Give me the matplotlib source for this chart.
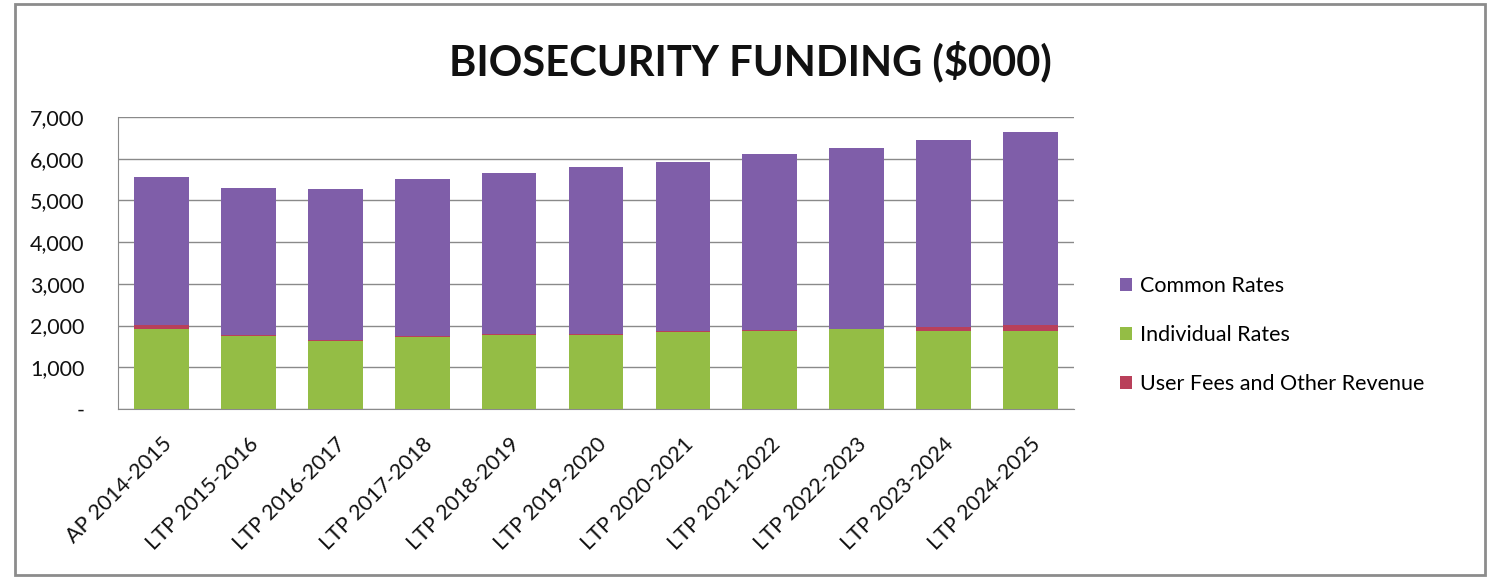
import numpy as np
import matplotlib.pyplot as plt
from matplotlib.patches import Rectangle
from matplotlib.ticker import FuncFormatter

plt.rcParams['font.family'] = ['Lato', 'DejaVu Sans']

years = ["AP 2014-2015", "LTP 2015-2016", "LTP 2016-2017", "LTP 2017-2018",
         "LTP 2018-2019", "LTP 2019-2020", "LTP 2020-2021", "LTP 2021-2022",
         "LTP 2022-2023", "LTP 2023-2024", "LTP 2024-2025"]
individual_rates = [1918, 1750, 1638, 1734, 1775, 1775, 1854, 1878, 1911, 1870, 1870]
user_fees = [95, 15, 15, 15, 15, 15, 15, 15, 15, 105, 135]
common_rates = [3541, 3542, 3630, 3759, 3862, 4020, 4061, 4215, 4340, 4476, 4631]

purple = "#7f5ea9"
green = "#94bd45"
red = "#b9405a"

fig = plt.figure(figsize=(14.92, 5.79), dpi=100)
ax = fig.add_axes([0.0791, 0.2936, 0.6407, 0.5043])

x = np.arange(len(years))
w = 0.63
ind = np.array(individual_rates)
fee = np.array(user_fees)
com = np.array(common_rates)
b_ind = ax.bar(x, ind, w, color=green, zorder=3)
b_fee = ax.bar(x, fee, w, bottom=ind, color=red, zorder=3)
b_com = ax.bar(x, com, w, bottom=ind + fee, color=purple, zorder=3)

ax.set_xlim(-0.5, len(years) - 0.5)
ax.set_ylim(0, 7000)
ax.set_yticks(range(0, 7001, 1000))
ax.yaxis.set_major_formatter(FuncFormatter(lambda v, p: "-" if v == 0 else f"{int(v):,}"))
ax.grid(axis='y', color='#8a8a8a', linewidth=1, zorder=0)
ax.set_axisbelow(True)

for s in ['top', 'right']:
    ax.spines[s].set_visible(False)
for s in ['left', 'bottom']:
    ax.spines[s].set_color('#8a8a8a')

ax.tick_params(axis='y', length=0, pad=24, labelsize=15.5, labelcolor='#111111')
ax.tick_params(axis='x', length=0, pad=18, labelsize=15.5, labelcolor='#111111')
ax.set_xticks(x)
ax.set_xticklabels(years, rotation=45, ha='right', rotation_mode='anchor')

fig.text(0.503, 0.893, "BIOSECURITY FUNDING ($000)", ha='center', va='center',
         fontsize=30, fontweight='bold', color='#111111')

leg = fig.legend([b_com, b_ind, b_fee],
                 ["Common Rates", "Individual Rates", "User Fees and Other Revenue"],
                 loc='center left', bbox_to_anchor=(0.738, 0.421), frameon=False,
                 fontsize=15.5, handlelength=0.55, handleheight=0.55,
                 handletextpad=0.35, labelspacing=1.35)

# outer chart border
fig.patches.append(Rectangle((15 / 1492, 4 / 579), 1470 / 1492, 571 / 579,
                             transform=fig.transFigure, fill=False,
                             edgecolor='#8c8c8c', linewidth=2))

fig.savefig("out.png", dpi=100)
